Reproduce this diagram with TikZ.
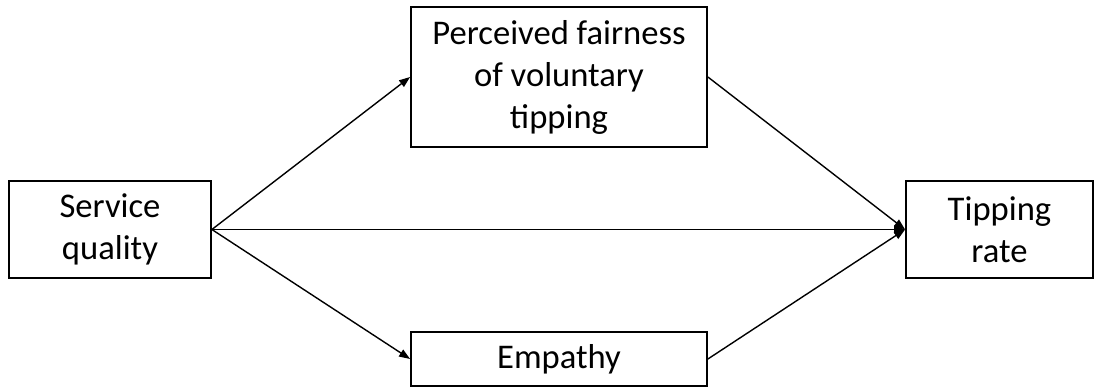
\documentclass[tikz,border=0pt]{standalone}
\usepackage{fontspec}
\setmainfont{Carlito}
\usetikzlibrary{arrows.meta}
\begin{document}
\begin{tikzpicture}[x=1pt,y=-1pt,
  box/.style={draw=black,line width=1.8pt,inner sep=0pt,align=center,
    font=\fontsize{34.6}{42}\selectfont},
  link/.style={line width=1.4pt,-{Triangle[length=11pt,width=8pt]}}]
\useasboundingbox (0,0) rectangle (1096,387);
\node[box,minimum width=202pt,minimum height=97pt] (sq) at (110,229.5) {Service\\quality};
\node[box,minimum width=296pt,minimum height=140pt] (pf) at (559,77) {Perceived fairness\\of voluntary\\tipping};
\node[box,minimum width=187pt,minimum height=97pt] (tr) at (999.5,229.5) {Tipping\\rate};
\node[box,minimum width=296pt,minimum height=54pt] (em) at (559,359) {Empathy};
\draw[link] (sq.east) -- (pf.west);
\draw[link] (sq.east) -- (em.west);
\draw[link] (sq.east) -- (tr.west);
\draw[link] (pf.east) -- (tr.west);
\draw[link] (em.east) -- (tr.west);
\end{tikzpicture}
\end{document}
